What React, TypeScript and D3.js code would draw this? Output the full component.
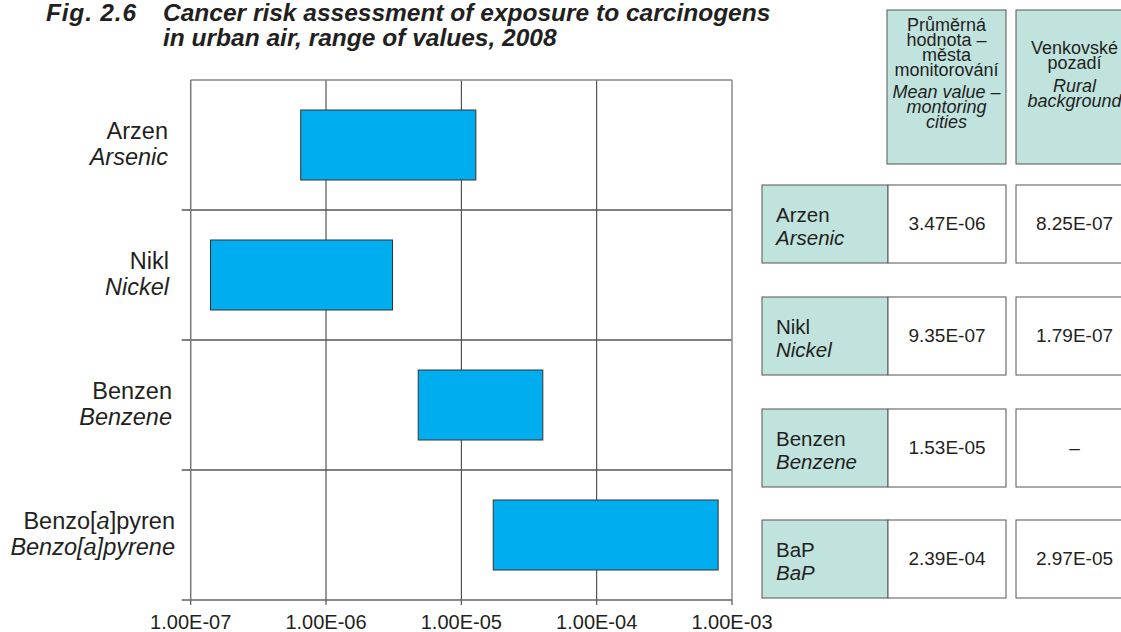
import React from "react";
import * as d3 from "d3";

const categoriesCz = ["Arzen", "Nikl", "Benzen", "Benzo[a]pyren"];
const categoriesEn = ["Arsenic", "Nickel", "Benzene", "Benzo[a]pyrene"];
const rangeMin = [6.5e-7, 1.4e-7, 4.8e-6, 1.72e-5];
const rangeMax = [1.28e-5, 3.1e-6, 4.0e-5, 7.9e-4];
const tickValues = [1e-7, 1e-6, 1e-5, 1e-4, 1e-3];
const tickLabels = ["1.00E-07", "1.00E-06", "1.00E-05", "1.00E-04", "1.00E-03"];

const tableCz = ["Arzen", "Nikl", "Benzen", "BaP"];
const tableEn = ["Arsenic", "Nickel", "Benzene", "BaP"];
const meanCities = ["3.47E-06", "9.35E-07", "1.53E-05", "2.39E-04"];
const ruralBackground = ["8.25E-07", "1.79E-07", "–", "2.97E-05"];

const header1Cz = ["Průměrná", "hodnota –", "města", "monitorování"];
const header1En = ["Mean value –", "montoring", "cities"];
const header2Cz = ["Venkovské", "pozadí"];
const header2En = ["Rural", "background"];

const FONT = "'Liberation Sans', Arial, Helvetica, sans-serif";
const TEAL = "#c0e3de";
const BLUE = "#00aeef";

export default function App() {
  const W = 1121;
  const H = 632;
  const left = 190.7;
  const right = 732;
  const top = 80;
  const bottom = 600;

  const x = d3.scaleLog().domain([1e-7, 1e-3]).range([left, right]);
  const y = d3.scaleBand<string>().domain(categoriesEn).range([top, bottom]).paddingInner(0);
  const bw = y.bandwidth();
  const barH = 70;
  const labelRight = [168, 169, 172, 175];

  const rowTops = [185, 297, 409, 520];
  const rowH = 78;
  const c1 = 762, c2 = 888, c2e = 1006, c3 = 1016, c3e = 1133;

  const renderCz = (s: string) => {
    if (s.includes("[a]")) {
      const [a, b] = s.split("[a]");
      return (
        <>
          {a}[<tspan fontStyle="italic">a</tspan>]{b}
        </>
      );
    }
    return s;
  };

  return (
    <svg width={W} height={H} style={{ position: "absolute", left: 0, top: 0, background: "#fff" }} fontFamily={FONT}>
      <rect x={0} y={0} width={W} height={H} fill="#fff" />
      {/* Title */}
      <g fontWeight="bold" fontStyle="italic" fontSize={24.5} fill="#231f20">
        <text x={46} y={21} letterSpacing={0.8}>Fig. 2.6</text>
        <text x={163} y={21}>Cancer risk assessment of exposure to carcinogens</text>
        <text x={163} y={46}>in urban air, range of values, 2008</text>
      </g>

      {/* vertical gridlines */}
      {tickValues.slice(1, -1).map((t, i) => (
        <line key={"vg" + i} x1={x(t)} x2={x(t)} y1={top} y2={bottom} stroke="#333" strokeWidth={1} />
      ))}
      {/* horizontal band lines */}
      {categoriesEn.slice(1).map((c, i) => (
        <line key={"hg" + i} x1={left - 9} x2={right} y1={y(c)!} y2={y(c)!} stroke="#555" strokeWidth={1.5} />
      ))}
      {/* border */}
      <line x1={left} x2={right} y1={top} y2={top} stroke="#888" strokeWidth={1.5} />
      <line x1={right} x2={right} y1={top} y2={bottom} stroke="#888" strokeWidth={1.5} />
      <line x1={left} x2={left} y1={top} y2={bottom} stroke="#777" strokeWidth={1.5} />
      <line x1={left - 9} x2={right} y1={bottom} y2={bottom} stroke="#666" strokeWidth={1.5} />
      {/* bottom ticks */}
      {tickValues.map((t, i) => (
        <line key={"bt" + i} x1={x(t)} x2={x(t)} y1={bottom} y2={bottom + 5} stroke="#555" strokeWidth={1.2} />
      ))}
      {tickValues.map((t, i) => (
        <text key={"tl" + i} x={x(t)} y={629} textAnchor="middle" fontSize={20} fill="#231f20">
          {tickLabels[i]}
        </text>
      ))}

      {/* bars */}
      {categoriesEn.map((c, i) => {
        const cy = y(c)! + bw / 2;
        return (
          <rect
            key={"bar" + i}
            x={x(rangeMin[i])}
            y={cy - barH / 2}
            width={x(rangeMax[i]) - x(rangeMin[i])}
            height={barH}
            fill={BLUE}
            stroke="#333"
            strokeWidth={1}
          />
        );
      })}

      {/* category labels */}
      {categoriesEn.map((c, i) => {
        const cy = y(c)! + bw / 2;
        return (
          <g key={"lab" + i} fontSize={23.5} fill="#231f20" textAnchor="end">
            <text x={labelRight[i]} y={cy - 6}>{renderCz(categoriesCz[i])}</text>
            <text x={labelRight[i]} y={cy + 20} fontStyle="italic">{c}</text>
          </g>
        );
      })}

      {/* table header */}
      <rect x={887} y={10} width={c2e - 887} height={154} fill={TEAL} stroke="#555" strokeWidth={1} />
      <rect x={c3} y={10} width={c3e - c3} height={154} fill={TEAL} stroke="#555" strokeWidth={1} />
      <g fontSize={18} fill="#231f20" textAnchor="middle">
        {header1Cz.map((s, i) => (
          <text key={"h1c" + i} x={(887 + c2e) / 2} y={31 + i * 15}>{s}</text>
        ))}
        {header1En.map((s, i) => (
          <text key={"h1e" + i} x={(887 + c2e) / 2} y={98 + i * 15} fontStyle="italic">{s}</text>
        ))}
        {header2Cz.map((s, i) => (
          <text key={"h2c" + i} x={(c3 + c3e) / 2} y={54 + i * 15} >{s}</text>
        ))}
        {header2En.map((s, i) => (
          <text key={"h2e" + i} x={(c3 + c3e) / 2} y={92 + i * 15} fontStyle="italic">{s}</text>
        ))}
      </g>

      {/* table rows */}
      {tableCz.map((s, i) => {
        const ty = rowTops[i];
        const cy = ty + rowH / 2;
        return (
          <g key={"row" + i}>
            <rect x={c1} y={ty} width={c2 - c1} height={rowH} fill={TEAL} stroke="#555" strokeWidth={1} />
            <rect x={c2} y={ty} width={c2e - c2} height={rowH} fill="#fff" stroke="#555" strokeWidth={1} />
            <rect x={c3} y={ty} width={c3e - c3} height={rowH} fill="#fff" stroke="#555" strokeWidth={1} />
            <text x={776} y={cy - 2} fontSize={20.5} fill="#231f20">{s}</text>
            <text x={776} y={cy + 21} fontSize={20.5} fill="#231f20" fontStyle="italic">{tableEn[i]}</text>
            <text x={(c2 + c2e) / 2} y={cy + 6} fontSize={19} fill="#231f20" textAnchor="middle">{meanCities[i]}</text>
            <text x={(c3 + c3e) / 2} y={cy + 6} fontSize={19} fill="#231f20" textAnchor="middle">{ruralBackground[i]}</text>
          </g>
        );
      })}
    </svg>
  );
}
